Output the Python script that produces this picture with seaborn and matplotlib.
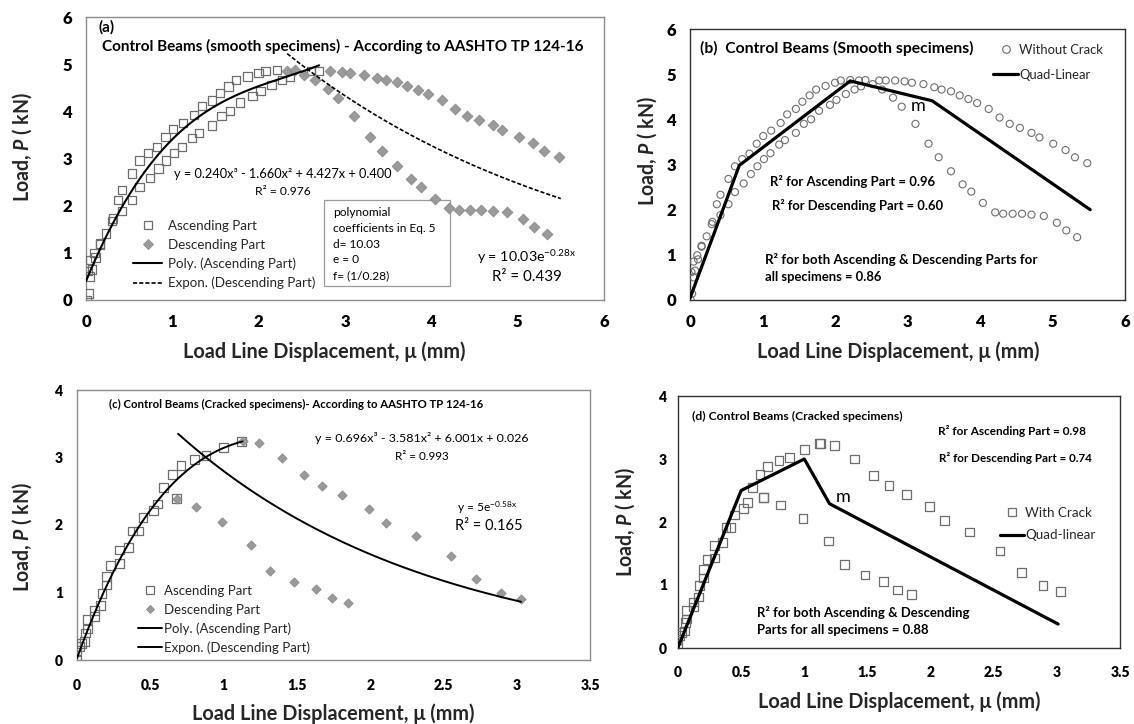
import numpy as np
import pandas as pd
import matplotlib
matplotlib.use("Agg")
import matplotlib.pyplot as plt
import seaborn as sns
from matplotlib.lines import Line2D
from matplotlib.patches import Rectangle

# ---------------- data ----------------
# Smooth specimens (control beams) - ascending part (two specimens)
smooth_asc_x = [0.02, 0.05, 0.10, 0.16, 0.23, 0.31, 0.37, 0.42, 0.53, 0.62, 0.72, 0.82, 0.92,
                1.01, 1.12, 1.25, 1.34, 1.46, 1.55, 1.65, 1.74, 1.87, 2.00, 2.08, 2.21,
                0.01, 0.03, 0.05, 0.07, 0.11, 0.16, 0.30, 0.42, 0.53, 0.62, 0.74, 0.84, 0.93,
                1.02, 1.11, 1.23, 1.31, 1.46, 1.57, 1.67, 1.78, 1.93, 2.02, 2.15, 2.27, 2.36,
                2.61, 2.70]
smooth_asc_y = [0.62, 0.85, 0.99, 1.20, 1.41, 1.73, 2.12, 2.33, 2.68, 2.96, 3.12, 3.24, 3.46,
                3.63, 3.75, 3.92, 4.11, 4.23, 4.39, 4.53, 4.66, 4.74, 4.81, 4.86, 4.87,
                0.00, 0.14, 0.50, 0.65, 0.90, 1.18, 1.68, 1.88, 2.12, 2.39, 2.58, 2.79, 2.96,
                3.12, 3.25, 3.44, 3.54, 3.70, 3.90, 4.00, 4.19, 4.32, 4.43, 4.56, 4.66, 4.73,
                4.86, 4.86]
# Smooth specimens - descending part (two specimens)
smooth_desc_x = [2.33, 2.42, 2.83, 2.96, 3.06, 3.22, 3.37, 3.47, 3.60, 3.72, 3.84, 3.96, 4.12,
                 4.27, 4.41, 4.55, 4.71, 4.82, 5.01, 5.18, 5.31, 5.48,
                 2.52, 2.65, 2.80, 2.92, 3.11, 3.29, 3.43, 3.60, 3.76, 3.88, 4.04, 4.21, 4.32,
                 4.45, 4.58, 4.71, 4.88, 5.06, 5.19, 5.34]
smooth_desc_y = [4.86, 4.87, 4.86, 4.84, 4.81, 4.78, 4.71, 4.66, 4.62, 4.53, 4.45, 4.36, 4.23,
                 4.04, 3.90, 3.81, 3.70, 3.60, 3.46, 3.32, 3.16, 3.03,
                 4.78, 4.66, 4.48, 4.28, 3.90, 3.46, 3.16, 2.85, 2.56, 2.40, 2.15, 1.94, 1.91,
                 1.91, 1.91, 1.89, 1.86, 1.71, 1.54, 1.39]
smooth_quad_x = [0.0, 0.68, 2.21, 3.34, 5.52]
smooth_quad_y = [0.04, 2.98, 4.85, 4.41, 2.00]
smooth_poly_coef = [0.240, -1.660, 4.427, 0.400]     # y = 0.240x^3 - 1.660x^2 + 4.427x + 0.400
smooth_poly_range = [0.0, 2.70]
smooth_exp_coef = [10.03, -0.28]                     # y = 10.03 e^(-0.28x)
smooth_exp_range = [2.33, 5.50]

# Cracked specimens - ascending part
crack_asc_x = [0.0, 0.0, 0.015, 0.03, 0.05, 0.06, 0.07, 0.07, 0.12, 0.12, 0.16, 0.17, 0.20, 0.20,
               0.23, 0.29, 0.29, 0.35, 0.38, 0.42, 0.45, 0.52, 0.55, 0.59, 0.65, 0.71, 0.68,
               0.80, 0.88, 1.00, 1.12]
crack_asc_y = [0.0, 0.14, 0.20, 0.24, 0.27, 0.40, 0.46, 0.60, 0.65, 0.73, 0.81, 0.99, 1.11, 1.24,
               1.40, 1.43, 1.63, 1.67, 1.91, 1.91, 2.11, 2.22, 2.31, 2.55, 2.75, 2.88, 2.39,
               2.97, 3.03, 3.15, 3.24]
# Cracked specimens - descending part
crack_desc_x = [1.13, 1.24, 1.40, 1.55, 1.67, 1.81, 1.99, 2.11, 2.31, 2.55, 2.72, 2.89, 3.03,
                0.68, 0.81, 0.99, 1.19, 1.32, 1.48, 1.63, 1.74, 1.85]
crack_desc_y = [3.24, 3.22, 3.00, 2.74, 2.58, 2.44, 2.24, 2.03, 1.84, 1.54, 1.20, 0.99, 0.90,
                2.39, 2.27, 2.05, 1.70, 1.32, 1.16, 1.05, 0.92, 0.85]
crack_quad_x = [0.0, 0.50, 1.00, 1.20, 3.01]
crack_quad_y = [0.01, 2.50, 3.00, 2.29, 0.38]
crack_poly_coef = [0.696, -3.581, 6.001, 0.026]      # y = 0.696x^3 - 3.581x^2 + 6.001x + 0.026
crack_poly_range = [0.0, 1.13]
crack_exp_coef = [5.0, -0.58]                        # y = 5 e^(-0.58x)
crack_exp_range = [0.69, 3.03]

# ---------------- style ----------------
sns.set_theme(style="white")
plt.rcParams["font.family"] = ["Lato", "DejaVu Sans"]
plt.rcParams["mathtext.fontset"] = "custom"
plt.rcParams["mathtext.rm"] = "Lato"
plt.rcParams["mathtext.it"] = "Lato:italic:bold"
plt.rcParams["mathtext.bf"] = "Lato:bold"

W, H = 1134, 724
fig = plt.figure(figsize=(W / 100, H / 100), dpi=100)
fig.patch.set_facecolor("white")


def px_axes(l, t, r, b):
    return fig.add_axes([l / W, 1 - b / H, (r - l) / W, (b - t) / H])


axA = px_axes(86, 17, 604, 300)
axB = px_axes(690, 29, 1125, 300)
axC = px_axes(77, 390, 590, 660)
axD = px_axes(678, 396, 1120, 648)

fits = []      # (text, target size in px, vertical?)
legs = []      # legend specs

SQ_EC = "#6e6e6e"
DI_FC = "#9a9a9a"
DI_EC = "#8a8a8a"
XLAB = "Load Line Displacement, \u03bc (mm)"
YLAB = r"Load, $P$ ( kN)"


def style(ax, xmax, xstep, ymax, spine, tick_fs, xpad, ypad, xlc, ylc):
    ax.set_xlim(0, xmax)
    ax.set_ylim(0, ymax)
    xt = np.arange(0, xmax + 1e-9, xstep)
    yt = np.arange(0, ymax + 1e-9, 1)
    ax.set_xticks(xt, labels=[f"{v:g}" for v in xt], fontsize=tick_fs, fontweight="heavy")
    ax.set_yticks(yt, labels=[f"{v:g}" for v in yt], fontsize=tick_fs, fontweight="heavy")
    ax.tick_params(axis="both", direction="in", length=4, width=0.8, color=spine,
                   labelcolor="black")
    ax.tick_params(axis="x", pad=xpad)
    ax.tick_params(axis="y", pad=ypad)
    for sp in ax.spines.values():
        sp.set_color(spine)
        sp.set_linewidth(1.0)
        sp.set_visible(True)
    ax.grid(False)
    ax.set_facecolor("white")
    xl = ax.set_xlabel(XLAB, fontsize=13, fontweight="bold")
    yl = ax.set_ylabel(YLAB, fontsize=13, fontweight="bold")
    ax.xaxis.set_label_coords(*xlc)
    ax.yaxis.set_label_coords(*ylc)
    xl.set_verticalalignment("center")
    yl.set_verticalalignment("center")
    fits.append((xl, 283, False))
    fits.append((yl, 110, True))


def put(ax, x, y, s, w=None, ha="left", **kw):
    t = ax.text(x, y, s, ha=ha, va="center", color="black", **kw)
    if w:
        fits.append((t, w, False))
    return t


def trend_poly(coef, rng):
    xs = np.linspace(rng[0], rng[1], 200)
    return xs, np.polyval(coef, xs)


def trend_exp(coef, rng):
    xs = np.linspace(rng[0], rng[1], 200)
    return xs, coef[0] * np.exp(coef[1] * xs)


def add_legend(ax, handles, labels, left, row1, pitch, widest, hl_px, pad_px):
    legs.append(dict(ax=ax, handles=handles, labels=labels, left=left, top=row1 - 8,
                     row1=row1, pitch=pitch, widest=widest, hl=hl_px, pad=pad_px,
                     fs=9.0, ls=0.4))


def build_legend(sp):
    fs_px = sp["fs"] * 100 / 72
    sp["leg"] = sp["ax"].legend(
        sp["handles"], sp["labels"], loc="upper left",
        bbox_to_anchor=(sp["left"] / W, 1 - sp["top"] / H), bbox_transform=fig.transFigure,
        frameon=False, fontsize=sp["fs"], handlelength=sp["hl"] / fs_px,
        handletextpad=sp["pad"] / fs_px, labelspacing=sp["ls"], borderpad=0,
        borderaxespad=0)


# ---------------- panel (a) ----------------
ax = axA
sns.scatterplot(x=smooth_asc_x, y=smooth_asc_y, ax=ax, marker="s", s=36,
                facecolor="none", edgecolor=SQ_EC, linewidth=0.9, zorder=3)
sns.scatterplot(x=smooth_desc_x, y=smooth_desc_y, ax=ax, marker="D", s=30,
                color=DI_FC, edgecolor=DI_EC, linewidth=0.6, zorder=3)
px, py = trend_poly(smooth_poly_coef, smooth_poly_range)
sns.lineplot(x=px, y=py, ax=ax, color="black", lw=1.5, sort=False, estimator=None, zorder=4)
ex, ey = trend_exp(smooth_exp_coef, smooth_exp_range)
sns.lineplot(x=ex, y=ey, ax=ax, color="black", lw=1.2, sort=False, estimator=None,
             dashes=False, linestyle=(0, (2.5, 1.2)), zorder=4)
style(ax, 6, 1, 6, "#8c8c8c", 12, 10, 10, (0.46, -0.184), (-0.124, 0.54))
put(ax, 0.15, 5.79, "(a)", fontsize=11, fontweight="bold")
put(ax, 0.185, 5.37, "Control Beams (smooth specimens) - According to AASHTO TP 124-16", 478,
    fontsize=11, fontweight="bold")
put(ax, 1.02, 2.68, "y = 0.240x\u00b3 - 1.660x\u00b2 + 4.427x + 0.400", 217, fontsize=10)
put(ax, 2.28, 2.31, "R\u00b2 = 0.976", 56, ha="center", fontsize=10)
ax.add_patch(Rectangle((2.76, 0.30), 1.46, 1.83, facecolor="white", edgecolor="#9a9a9a",
                       lw=0.9, zorder=2))
box_lines = ["polynomial", "coefficients in Eq. 5", "d= 10.03", "e = 0", "f= (1/0.28)"]
box_y = [1.85, 1.52, 1.18, 0.85, 0.51]
box_texts = [put(ax, 2.86, y_, s_, fontsize=9.5, zorder=5) for s_, y_ in zip(box_lines, box_y)]
put(ax, 5.11, 0.92, r"y = 10.03e$^{\mathregular{-0.28x}}$", 99, ha="center", fontsize=12)
put(ax, 5.11, 0.49, "R\u00b2 = 0.439", 70, ha="center", fontsize=12)
hA = [Line2D([], [], ls="none", marker="s", mfc="none", mec=SQ_EC, ms=6, mew=0.9),
      Line2D([], [], ls="none", marker="D", mfc=DI_FC, mec=DI_EC, ms=5.5, mew=0.6),
      Line2D([], [], color="black", lw=1.5),
      Line2D([], [], color="black", lw=1.2, ls=(0, (2.5, 1.2)))]
add_legend(ax, hA, ["Ascending Part", "Descending Part", "Poly. (Ascending Part)",
                    "Expon. (Descending Part)"], 133, 226, 19.0, 148, 29, 6)

# ---------------- panel (b) ----------------
ax = axB
sns.scatterplot(x=smooth_asc_x + smooth_desc_x, y=smooth_asc_y + smooth_desc_y, ax=ax,
                marker="o", s=26, facecolor="none", edgecolor=SQ_EC, linewidth=0.8, zorder=3)
sns.lineplot(x=smooth_quad_x, y=smooth_quad_y, ax=ax, color="black", lw=2.3, sort=False,
             estimator=None, zorder=4)
style(ax, 6, 1, 6, "#333333", 12, 10, 10, (0.478, -0.192), (-0.099, 0.55))
put(ax, 0.134, 5.56, "(b)  Control Beams (Smooth specimens)", 273, fontsize=12, fontweight="bold")
put(ax, 1.11, 2.62, "R\u00b2 for Ascending Part = 0.96", 165, fontsize=10.5, fontweight="bold")
put(ax, 1.13, 2.10, "R\u00b2 for Descending Part = 0.60", 172, fontsize=10.5, fontweight="bold")
put(ax, 1.04, 0.90, "R\u00b2 for both Ascending & Descending Parts for", 269, fontsize=10.5,
    fontweight="bold")
put(ax, 1.04, 0.52, "all specimens = 0.86", 117, fontsize=10.5, fontweight="bold")
put(ax, 3.14, 4.29, "m", ha="center", fontsize=13)
hB = [Line2D([], [], ls="none", marker="o", mfc="none", mec=SQ_EC, ms=5.5, mew=0.8),
      Line2D([], [], color="black", lw=2.3)]
add_legend(ax, hB, ["Without Crack", "Quad-Linear"], 993, 50, 25.0, 84, 25, 1)

# ---------------- panel (c) ----------------
ax = axC
sns.scatterplot(x=crack_asc_x, y=crack_asc_y, ax=ax, marker="s", s=40,
                facecolor="none", edgecolor=SQ_EC, linewidth=0.9, zorder=3)
sns.scatterplot(x=crack_desc_x, y=crack_desc_y, ax=ax, marker="D", s=22,
                color=DI_FC, edgecolor=DI_EC, linewidth=0.6, zorder=3)
px, py = trend_poly(crack_poly_coef, crack_poly_range)
sns.lineplot(x=px, y=py, ax=ax, color="black", lw=1.4, sort=False, estimator=None, zorder=4)
ex, ey = trend_exp(crack_exp_coef, crack_exp_range)
sns.lineplot(x=ex, y=ey, ax=ax, color="black", lw=1.4, sort=False, estimator=None, zorder=4)
style(ax, 3.5, 0.5, 4, "#8c8c8c", 10, 14, 10, (0.5, -0.2), (-0.107, 0.455))
put(ax, 0.218, 3.78, "(c) Control Beams (Cracked specimens)- According to AASHTO TP 124-16", 375,
    fontsize=8.5, fontweight="bold")
put(ax, 2.35, 3.29, "y = 0.696x\u00b3 - 3.581x\u00b2 + 6.001x + 0.026", 212, ha="center", fontsize=10)
put(ax, 2.35, 3.02, "R\u00b2 = 0.993", 54, ha="center", fontsize=10)
put(ax, 2.80, 2.26, r"y = 5e$^{\mathregular{-0.58x}}$", 60, ha="center", fontsize=12)
put(ax, 2.81, 1.98, "R\u00b2 = 0.165", 68, ha="center", fontsize=12)
hC = [Line2D([], [], ls="none", marker="s", mfc="none", mec=SQ_EC, ms=6, mew=0.9),
      Line2D([], [], ls="none", marker="D", mfc=DI_FC, mec=DI_EC, ms=4.5, mew=0.6),
      Line2D([], [], color="black", lw=1.4),
      Line2D([], [], color="black", lw=1.4)]
add_legend(ax, hC, ["Ascending Part", "Descending Part", "Poly. (Ascending Part)",
                    "Expon. (Descending Part)"], 137.5, 591, 18.9, 145, 24, 3)

# ---------------- panel (d) ----------------
ax = axD
sns.scatterplot(x=crack_asc_x + crack_desc_x, y=crack_asc_y + crack_desc_y, ax=ax,
                marker="s", s=40, facecolor="none", edgecolor=SQ_EC, linewidth=0.9, zorder=3)
sns.lineplot(x=crack_quad_x, y=crack_quad_y, ax=ax, color="black", lw=2.3, sort=False,
             estimator=None, zorder=4)
style(ax, 3.5, 0.5, 4, "#333333", 10, 13, 8, (0.5, -0.214), (-0.12, 0.50))
put(ax, 0.108, 3.67, "(d) Control Beams (Cracked specimens)", 210, fontsize=9, fontweight="bold")
put(ax, 2.06, 3.44, "R\u00b2 for Ascending Part = 0.98", 148, fontsize=9.5, fontweight="bold")
put(ax, 2.07, 3.02, "R\u00b2 for Descending Part = 0.74", 154, fontsize=9.5, fontweight="bold")
put(ax, 0.626, 0.57, "R\u00b2 for both Ascending & Descending", 212, fontsize=10.5,
    fontweight="bold")
put(ax, 0.626, 0.29, "Parts for all specimens = 0.88", 170, fontsize=10.5, fontweight="bold")
put(ax, 1.31, 2.40, "m", ha="center", fontsize=13)
hD = [Line2D([], [], ls="none", marker="s", mfc="none", mec=SQ_EC, ms=6, mew=0.9),
      Line2D([], [], color="black", lw=2.3)]
add_legend(ax, hD, ["With Crack", "Quad-linear"], 1000, 513, 22.3, 70, 24, 1)

# ---------------- fit text sizes and legend layout ----------------
for sp in legs:
    build_legend(sp)
for _ in range(5):
    fig.canvas.draw()
    r = fig.canvas.get_renderer()
    for t, w, vert in fits:
        bb = t.get_window_extent(r)
        cur = bb.height if vert else bb.width
        if cur > 0:
            t.set_fontsize(t.get_fontsize() * w / cur)
    bb = box_texts[1].get_window_extent(r)
    f = box_texts[1].get_fontsize() * 103 / bb.width
    for t in box_texts:
        t.set_fontsize(f)
    for sp in legs:
        texts = sp["leg"].get_texts()
        exts = [t.get_window_extent(r) for t in texts]
        widest = max(e.width for e in exts)
        centers = [H - (e.y0 + e.y1) / 2 for e in exts]
        cur_pitch = float(np.mean(np.diff(centers)))
        fs_px = sp["fs"] * 100 / 72
        sp["ls"] = max(0.0, sp["ls"] + (sp["pitch"] - cur_pitch) / fs_px)
        sp["top"] += sp["row1"] - centers[0]
        sp["fs"] = sp["fs"] * sp["widest"] / widest
    for sp in legs:
        build_legend(sp)

fig.savefig("out.png", dpi=100, facecolor="white")
